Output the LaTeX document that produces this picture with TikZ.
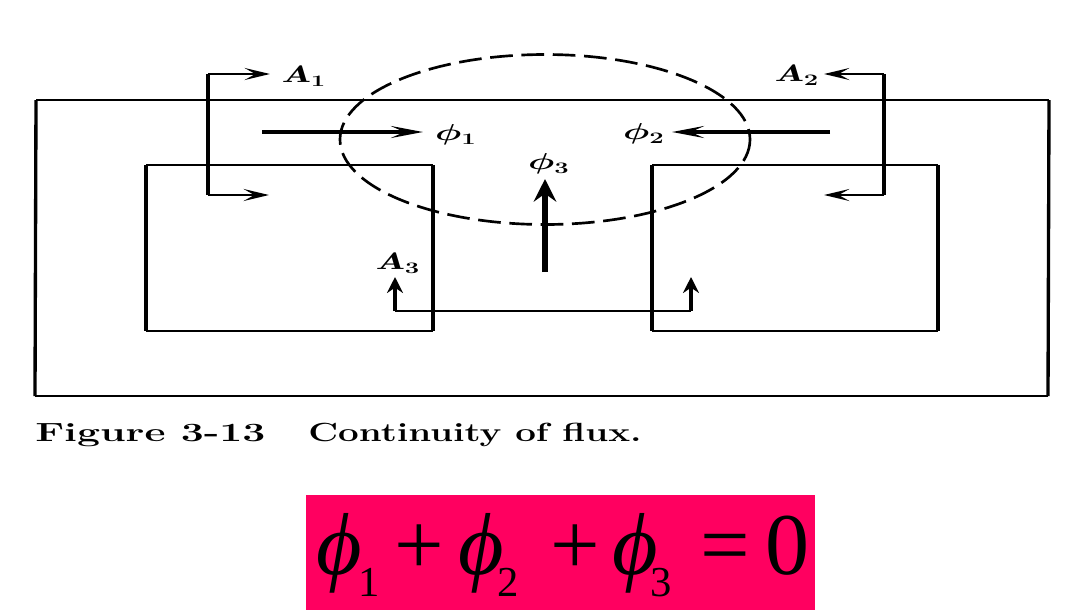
\documentclass[tikz,border=0pt]{standalone}
\usepackage{fontspec}
\usepackage{amsmath}
\usepackage{graphicx}
\newfontfamily\eqfont{Liberation Serif}
\usetikzlibrary{arrows.meta,shapes.geometric}
\definecolor{eqpink}{RGB}{255,0,96}
\tikzset{
  hwire/.style={line width=2.1pt,black,line cap=square},
  vwire/.style={line width=2.5pt,black,line cap=square},
  hpath/.style={line width=2.1pt,black,-{Stealth[length=19pt,width=9pt,inset=8pt]}},
  vpath/.style={line width=2.6pt,black,-{Stealth[length=12pt,width=12pt,inset=4pt]}},
  riser/.style={line width=2.8pt,black,line cap=square},
  hflux/.style={line width=2.8pt,black,-{Stealth[length=24pt,width=9pt,inset=10pt]}},
  vflux/.style={line width=4.8pt,black,-{Stealth[length=17pt,width=17pt,inset=6pt]}},
  lab/.style={inner sep=0pt},
}
\newcommand{\sym}[2]{\scalebox{1.6}[1]{\fontsize{18}{20}\selectfont\boldmath$\mathit{#1}_{#2}$}}
\newcommand{\gl}[2]{\makebox[0pt][l]{\hspace*{#1pt}#2}}
\newcommand{\phig}{\fontsize{66}{70}\selectfont\itshape ϕ}
\newcommand{\subg}[1]{\raisebox{-17pt}{\upshape\fontsize{32}{34}\selectfont #1}}
\newcommand{\opg}[1]{{\upshape\fontsize{66}{70}\selectfont #1}}
\begin{document}
\begin{tikzpicture}[x=0.75pt,y=-0.75pt]
\useasboundingbox (0,0) rectangle (1066,615);
\fill[white] (0,0) rectangle (1066,615);
% core
\draw[hwire] (36,100) -- (1049,100);
\draw[hwire] (35,396) -- (1048,396);
\draw[vwire] (36,100) -- (35,396);
\draw[vwire] (1049,100) -- (1048,396);
\draw[hwire] (146,165) -- (433,165);
\draw[hwire] (146,331) -- (433,331);
\draw[vwire] (146,165) -- (146,331);
\draw[vwire] (433,165) -- (433,331);
\draw[hwire] (652,165) -- (938,165);
\draw[hwire] (652,331) -- (938,331);
\draw[vwire] (652,165) -- (652,331);
\draw[vwire] (938,165) -- (938,331);
% dashed surface
\draw[line width=2pt,dash pattern=on 17pt off 6.5pt] (545,139.5) ellipse [x radius=205,y radius=85];
% coordinates
\coordinate (a1s) at (208,74); \coordinate (a1t) at (270,74);
\coordinate (a1b) at (208,195); \coordinate (a1e) at (269,195);
\coordinate (a2s) at (884,74); \coordinate (a2t) at (824,74);
\coordinate (a2b) at (884,195); \coordinate (a2e) at (824,195);
\coordinate (a3l) at (395,311); \coordinate (a3t) at (395,277);
\coordinate (a3r) at (691,311); \coordinate (a3e) at (691,277);
\coordinate (f1a) at (262,132); \coordinate (f1b) at (423,132);
\coordinate (f2a) at (830,132); \coordinate (f2b) at (672,132);
\coordinate (f3a) at (545,272); \coordinate (f3b) at (545,179);
% area paths
\draw[riser] (a1s) -- (a1b);
\draw[riser] (a2s) -- (a2b);
\draw[hpath] (a1s) -- (a1t);
\draw[hpath] (a1b) -- (a1e);
\draw[hpath] (a2s) -- (a2t);
\draw[hpath] (a2b) -- (a2e);
\draw[vpath] (a3l) -- (a3t);
\draw[vpath] (a3r) -- (a3e);
\draw[hwire] (a3l) -- (a3r);
% flux
\draw[hflux] (f1a) -- (f1b);
\draw[hflux] (f2a) -- (f2b);
\draw[vflux] (f3a) -- (f3b);
% labels
\node[lab] (A1) at (304,76) {\sym{A}{1}};
\node[lab] (A2) at (797,75) {\sym{A}{2}};
\node[lab] (A3) at (398,263) {\sym{A}{3}};
\node[lab] (p1) at (456,135) {\sym{\phi}{1}};
\node[lab] (p2) at (644,134) {\sym{\phi}{2}};
\node[lab] (p3) at (549,164) {\sym{\phi}{3}};
% caption
\node[inner sep=0pt,anchor=base west] (capA) at (35,441.5) {\scalebox{1.56}[1]{\fontsize{19.7}{22}\selectfont\bfseries Figure 3-13}};
\node[inner sep=0pt,anchor=base west] (capB) at (308,441.5) {\scalebox{1.40}[1]{\fontsize{19.7}{22}\selectfont\bfseries Continuity of flux.}};
% equation
\fill[eqpink] (306,495) rectangle (815,610);
\node[inner sep=0pt,anchor=base west] (eq) at (316,574) {\eqfont
 \gl{0}{\phig}\gl{31.5}{\subg{1}}\gl{59}{\opg{+}}\gl{106.5}{\phig}\gl{135.75}{\subg{2}}\gl{175.5}{\opg{+}}\gl{222}{\phig}\gl{250.5}{\subg{3}}\gl{288.5}{\opg{=}}\gl{336.75}{\opg{0}}\hspace*{366pt}};
\end{tikzpicture}
\end{document}
